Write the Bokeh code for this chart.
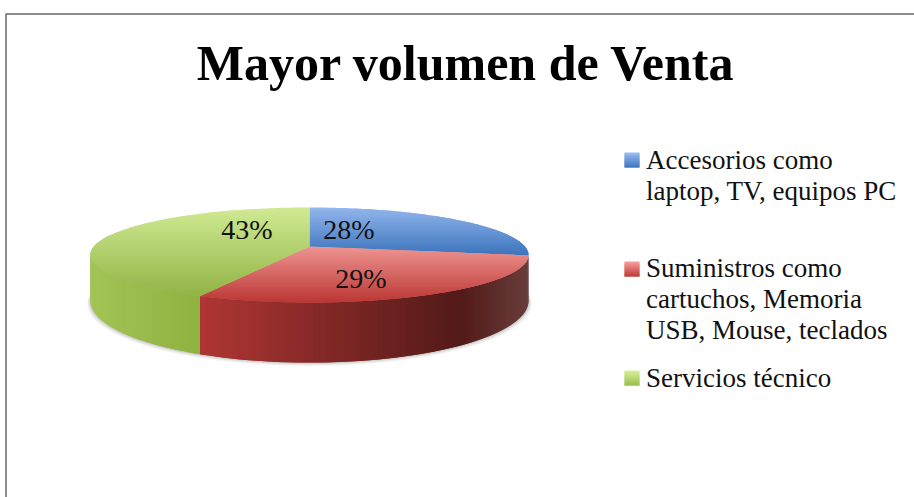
import math
from bokeh.plotting import figure
from bokeh.models import Range1d
from bokeh.core.properties import value
from bokeh.embed import file_html
from bokeh.resources import INLINE

# ---- data ----
title = "Mayor volumen de Venta"
categories = ["Accesorios como laptop, TV, equipos PC",
              "Suministros como cartuchos, Memoria USB, Mouse, teclados",
              "Servicios técnico"]
percent = [28, 29, 43]

# ---- layout & style ----
W, H = 914, 497
SERIF = value("Liberation Serif")
BASE_SHIFT = 0.36   # fraction of the font size between requested and drawn baseline
CX, Y0, B, A, K = 309, 246, 215.5, 46, 0.179   # top face projection
Y0_LOW, A_LOW = 289, 60                        # lower rim projection
top_cols = [("#92B5EC", "#3C74BC"), ("#EE9492", "#BB3734"), ("#D0EA93", "#92B446")]
side_stops = {1: [(197, "#B03634"), (460, "#521A18"), (528, "#683D3B")],
              2: [(90, "#A2C455"), (197, "#8FB240")]}
legend_cols = [("#9DBEF2", "#3E76BE"), ("#FB9F9C", "#BD3B38"), ("#D9F29C", "#9ABC4C")]
legend_lines = [["Accesorios como", "laptop, TV, equipos PC"],
                ["Suministros como", "cartuchos, Memoria", "USB, Mouse, teclados"],
                ["Servicios técnico"]]
legend_base = [[169, 200], [277, 308, 339], [387]]
legend_swatch_y = [152, 261, 370]
label_pos = [(348.5, 239), (360.5, 288), (246.5, 239)]


def rgb(h):
    return tuple(int(h[i:i + 2], 16) for i in (1, 3, 5))


def mix(a, b, f):
    f = max(0, min(1, f))
    ca, cb = rgb(a), rgb(b)
    return "#%02x%02x%02x" % tuple(round(x + (y - x) * f) for x, y in zip(ca, cb))


def project(t, r=1.0, y0=Y0, a=A):
    u, v = r * math.sin(t), r * math.cos(t)
    w = 1 + K * v
    return CX + B * u / w, y0 - a * v / w


def clip(poly, y, keep_below):
    out = []
    for i in range(len(poly)):
        p_, q = poly[i], poly[(i + 1) % len(poly)]
        pin = p_[1] >= y if keep_below else p_[1] <= y
        qin = q[1] >= y if keep_below else q[1] <= y
        if pin:
            out.append(p_)
        if pin != qin:
            f = (y - p_[1]) / (q[1] - p_[1])
            out.append((p_[0] + (q[0] - p_[0]) * f, y))
    return out


def put_text(x, y, s, size, align="left", style="normal", color="#111111"):
    p.text([x], [y - BASE_SHIFT * size], text=[s], text_font=SERIF,
           text_font_size=f"{size}px", text_font_style=style, text_align=align,
           text_baseline="alphabetic", text_color=color)


p = figure(width=W, height=H, x_range=Range1d(0, W), y_range=Range1d(H, 0),
           output_backend="svg", toolbar_location=None, min_border=0)
p.axis.visible = False
p.grid.visible = False
p.outline_line_color = None
p.styles = {"position": "absolute", "left": "0px", "top": "0px"}

# chart frame
p.line([5.5, 5.5, W], [H, 13.5, 13.5], line_color="#8C8C8C", line_width=2)

# angles from the values
total = sum(percent)
edges = [0.0]
for val in percent:
    edges.append(edges[-1] + val / total * 2 * math.pi)

# soft shadow under the lower rim
N = 180
for grow, alpha in [(6, 0.05), (4.5, 0.07), (3, 0.10), (1.5, 0.14)]:
    ts = [2 * math.pi * i / N for i in range(N)]
    pts = [project(t, 1.0, Y0_LOW, A_LOW) for t in ts]
    p.patch([CX + (x - CX) * (1 + grow / 400) for x, _ in pts],
            [y + grow * 0.6 for _, y in pts],
            fill_color="#606060", fill_alpha=alpha, line_color=None)

# side wall: overlapping strips coloured across x
for i, stops in side_stops.items():
    t0, t1 = edges[i], min(edges[i + 1], math.radians(285))
    n = 80
    for j in range(n):
        a0 = t0 + (t1 - t0) * j / n
        a1 = t0 + (t1 - t0) * min(j + 2, n) / n
        am = t0 + (t1 - t0) * (j + 0.5) / n
        x0, y0 = project(a0)
        x1, y1 = project(a1)
        x2, y2 = project(a1, 1.0, Y0_LOW, A_LOW)
        x3, y3 = project(a0, 1.0, Y0_LOW, A_LOW)
        xm = project(am)[0]
        col = stops[-1][1]
        for (sa, ca), (sb, cb) in zip(stops, stops[1:]):
            if sa <= xm <= sb:
                col = mix(ca, cb, (xm - sa) / (sb - sa))
                break
        if xm < stops[0][0]:
            col = stops[0][1]
        p.patch([x0, x1, x2, x3], [y0, y1, y2, y3], fill_color=col, line_color=None)

# top face: overlapping horizontal bands with a vertical gradient per slice
for i in range(len(percent)):
    m = 90
    poly = [(CX, Y0)] + [project(edges[i] + (edges[i + 1] - edges[i]) * j / m)
                         for j in range(m + 1)]
    ymin = min(q[1] for q in poly)
    ymax = max(q[1] for q in poly)
    bands = 40
    c0, c1 = top_cols[i]
    for j in range(bands):
        ya = ymin + (ymax - ymin) * j / bands
        yb = ymin + (ymax - ymin) * min(j + 2, bands) / bands
        part = clip(clip(poly, ya, True), yb, False)
        if len(part) < 3:
            continue
        col = mix(c0, c1, (j + 0.5) / bands)
        p.patch([q[0] for q in part], [q[1] for q in part], fill_color=col, line_color=None)

# data labels
for val, (lx, ly) in zip(percent, label_pos):
    put_text(lx, ly, f"{val}%", 28, align="center")

# title
put_text(465.5, 80, title, 50, align="center", style="bold", color="#000000")

# legend
for i, lines in enumerate(legend_lines):
    sy = legend_swatch_y[i]
    steps = 15
    for j in range(steps):
        col = mix(legend_cols[i][0], legend_cols[i][1], (j + 0.5) / steps)
        p.quad(left=[624], right=[639], top=[sy + j], bottom=[sy + min(j + 2, steps)],
               fill_color=col, line_color=None)
    for line, base in zip(lines, legend_base[i]):
        put_text(645.5, base, line, 27)

open("out.html", "w").write(file_html(p, INLINE))
